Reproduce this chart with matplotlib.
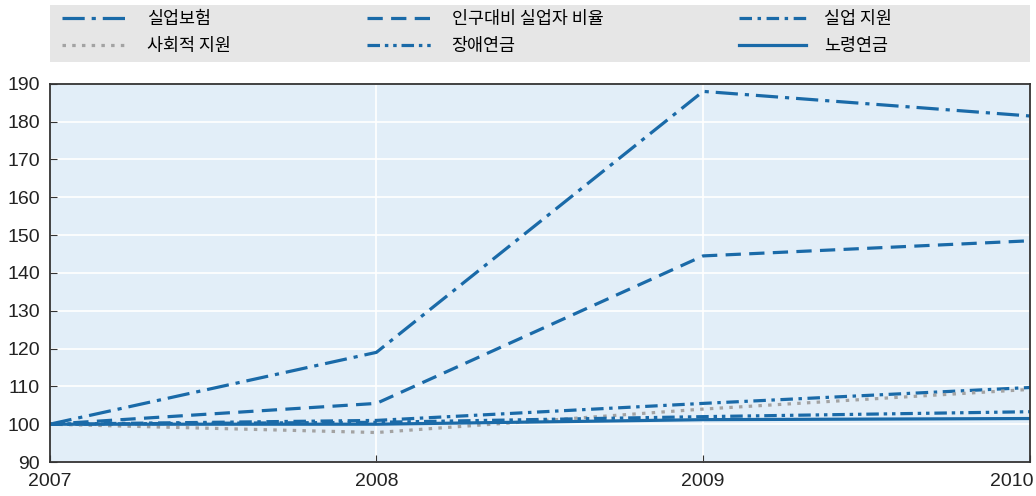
import matplotlib.pyplot as plt
from matplotlib.patches import Rectangle
from matplotlib.transforms import ScaledTranslation

# 데이터
years = [2007, 2008, 2009, 2010]
unemp_insurance = [100, 119, 188, 181.5]
unemp_ratio = [100, 105.5, 144.5, 148.5]
unemp_assist = [100, 101, 105.5, 109.7]
social_assist = [100, 97.8, 104, 109.2]
disability = [100, 100.5, 102, 103.3]
old_age = [100, 100, 101.2, 101.5]

labels = ['실업보험', '인구대비 실업자 비율', '실업 지원', '사회적 지원', '장애연금', '노령연금']
y_ticks = list(range(90, 191, 10))

blue = '#1a6aa8'
gray = '#a3a3a3'

plt.rcParams['font.family'] = ['Liberation Sans', 'Noto Sans CJK KR', 'DejaVu Sans']
plt.rcParams['lines.scale_dashes'] = False

fig = plt.figure(figsize=(10.36, 4.96), dpi=100)
ax = fig.add_axes([0.048, 0.0685, 0.946, 0.7625])
ax.set_facecolor('#e2eef8')

lw = 2.3
h1, = ax.plot(years, unemp_insurance, color=blue, lw=lw, dashes=(16, 5, 3, 5))
h2, = ax.plot(years, unemp_ratio, color=blue, lw=lw, dashes=(11, 6))
h3, = ax.plot(years, unemp_assist, color=blue, lw=lw, dashes=(9, 4, 2.5, 4))
h4, = ax.plot(years, social_assist, color=gray, lw=lw, dashes=(2.5, 4.5))
h5, = ax.plot(years, disability, color=blue, lw=lw, dashes=(9, 3.5, 2.5, 3.5, 2.5, 3.5))
h6, = ax.plot(years, old_age, color=blue, lw=lw)

ax.set_xlim(2007, 2010)
ax.set_ylim(90, 190)
ax.set_yticks(y_ticks)
ax.set_xticks(years)
ax.grid(True, color='white', lw=1.2)
ax.set_axisbelow(True)
ax.tick_params(axis='both', direction='in', length=5, labelsize=14, color='#333333',
               labelcolor='#222222')
ax.tick_params(axis='y', pad=7)
ax.tick_params(axis='x', pad=8)
for s in ax.spines.values():
    s.set_color('#333333')
    s.set_linewidth(1.3)

# 마지막 x 눈금 라벨 위치 보정
xl = ax.get_xticklabels()
xl[-1].set_transform(xl[-1].get_transform() + ScaledTranslation(-0.18, 0, fig.dpi_scale_trans))

# 범례 배경 (회색 띠)
fig.patches.append(Rectangle((0.048, 0.875), 0.946, 0.115, transform=fig.transFigure,
                             facecolor='#e6e6e6', edgecolor='none', zorder=0))

handles = [h1, h4, h2, h5, h3, h6]
leg_labels = [labels[0], labels[3], labels[1], labels[4], labels[2], labels[5]]
leg = fig.legend(handles, leg_labels, ncol=3, loc='center left',
                 bbox_to_anchor=(0.06, 0.935), frameon=False,
                 prop={'family': ['Noto Sans CJK KR'], 'size': 12.5},
                 handlelength=3.9, handletextpad=1.0, labelspacing=0.5,
                 columnspacing=7.8, borderpad=0, borderaxespad=0)

fig.savefig('out.png', dpi=100)
